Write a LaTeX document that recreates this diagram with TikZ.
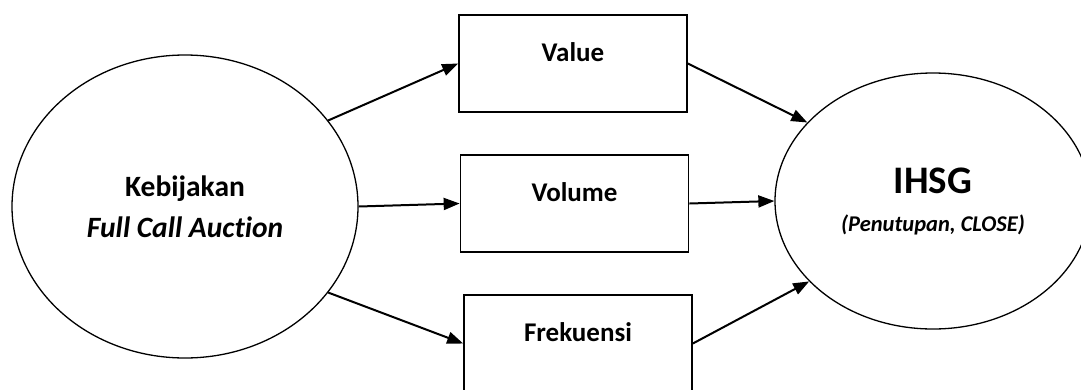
\documentclass[tikz,border=0pt]{standalone}
\usepackage{fontspec}
\setmainfont{Carlito}[Ligatures=NoCommon]
\usetikzlibrary{shapes.geometric,arrows.meta}

\begin{document}
\begin{tikzpicture}[x=1pt,y=-1pt,
        oval/.style={draw=black, line width=1.3pt, ellipse, inner sep=0pt, align=center},
        varbox/.style={draw=black, line width=1.7pt, rectangle, minimum width=228pt, minimum height=97pt,
            inner sep=0pt, text height=18pt, text depth=22pt, font=\fontsize{27}{32}\selectfont\bfseries},
        arr/.style={line width=2pt, -{Triangle[length=16pt,width=12pt]}}]
        \useasboundingbox (0,0) rectangle (1081,389);

        % policy and index
        \node[oval, minimum width=346pt, minimum height=303pt, font=\fontsize{29.5}{41}\selectfont\bfseries]
            (kbj) at (185,206.5) {Kebijakan\\\textit{Full Call Auction}};
        \node[oval, minimum width=316pt, minimum height=256pt, font=\fontsize{22.5}{38}\selectfont\bfseries]
            (ihsg) at (933,201) {{\fontsize{39}{39}\selectfont IHSG}\\\textit{(Penutupan, CLOSE)}};

        % trading variables
        \node[varbox] (value) at (573,63.5) {Value};
        \node[varbox] (volume) at (574.5,203.5) {Volume};
        \node[varbox] (frek) at (578,343.5) {Frekuensi};

        \draw[arr] (kbj.31) -- (value.west);
        \draw[arr] (kbj.east) -- (volume.west);
        \draw[arr] (kbj.-31) -- (frek.west);

        \draw[arr] (value.east) -- (ihsg.148);
        \draw[arr] (volume.east) -- (ihsg.west);
        \draw[arr] (frek.east) -- (ihsg.213);
    \end{tikzpicture}
\end{document}
